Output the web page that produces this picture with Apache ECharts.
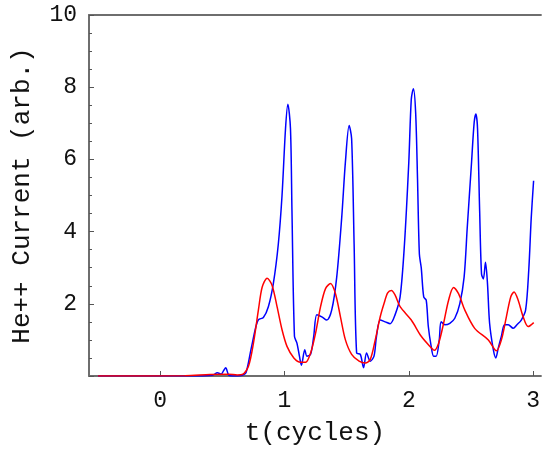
<!DOCTYPE html>
<html>
<head>
<meta charset="utf-8">
<script src="https://cdn.jsdelivr.net/npm/echarts@6/dist/echarts.min.js"></script>
<style>
  html, body { margin: 0; padding: 0; background: #fff; }
  #chart { width: 543px; height: 451px; }
</style>
</head>
<body>
<div id="chart"></div>
<script>
// time in cycles and He++ current
const blueT = [-0.5, 0.0, 0.3, 0.42, 0.46, 0.49, 0.51, 0.527, 0.55, 0.58, 0.62, 0.66, 0.69, 0.73, 0.77, 0.79, 0.83, 0.87, 0.91, 0.95, 0.98, 1.008, 1.027, 1.048, 1.06, 1.08, 1.10, 1.12, 1.136, 1.163, 1.18, 1.21, 1.235, 1.26, 1.30, 1.34, 1.38, 1.42, 1.46, 1.49, 1.52, 1.54, 1.56, 1.58, 1.61, 1.636, 1.66, 1.69, 1.72, 1.74, 1.77, 1.81, 1.85, 1.89, 1.93, 1.965, 2.0, 2.02, 2.037, 2.055, 2.07, 2.085, 2.10, 2.12, 2.14, 2.157, 2.18, 2.20, 2.22, 2.245, 2.26, 2.29, 2.33, 2.37, 2.41, 2.445, 2.47, 2.505, 2.526, 2.54, 2.553, 2.57, 2.585, 2.60, 2.617, 2.633, 2.65, 2.68, 2.70, 2.72, 2.745, 2.77, 2.80, 2.84, 2.87, 2.905, 2.94, 2.965, 2.985, 3.004];
const blueI = [0, 0, 0, 0.02, 0.09, 0.05, 0.15, 0.23, 0.03, 0, 0, 0.02, 0.09, 0.73, 1.37, 1.56, 1.62, 1.92, 2.56, 3.65, 5.0, 6.85, 7.53, 6.85, 4.57, 1.1, 0.91, 0.55, 0.3, 0.73, 0.55, 0.6, 1.1, 1.7, 1.64, 1.55, 1.83, 2.74, 4.38, 5.93, 6.94, 6.57, 3.65, 0.64, 0.6, 0.23, 0.64, 0.41, 0.55, 1.1, 1.55, 1.5, 1.45, 1.7, 2.19, 3.65, 5.93, 7.67, 7.96, 7.3, 5.48, 3.38, 3.0, 2.19, 2.1, 1.37, 0.82, 0.55, 0.55, 1.0, 1.5, 1.42, 1.46, 1.6, 2.0, 2.74, 4.1, 5.93, 7.03, 7.26, 6.85, 4.57, 2.83, 2.69, 3.15, 2.56, 1.46, 0.73, 0.5, 0.78, 1.1, 1.42, 1.42, 1.32, 1.42, 1.55, 1.83, 2.93, 4.38, 5.41];

const redT = [-0.5, 0.2, 0.4, 0.55, 0.62, 0.66, 0.71, 0.75, 0.79, 0.82, 0.86, 0.90, 0.94, 0.98, 1.02, 1.075, 1.13, 1.17, 1.21, 1.25, 1.29, 1.33, 1.37, 1.41, 1.45, 1.49, 1.54, 1.60, 1.65, 1.69, 1.73, 1.77, 1.80, 1.83, 1.86, 1.89, 1.93, 2.02, 2.10, 2.17, 2.205, 2.24, 2.28, 2.32, 2.36, 2.40, 2.45, 2.53, 2.64, 2.705, 2.745, 2.785, 2.82, 2.847, 2.88, 2.92, 2.96, 3.005];
const redI = [0, 0.01, 0.04, 0.05, 0.03, 0.04, 0.27, 0.91, 1.83, 2.46, 2.71, 2.51, 1.92, 1.28, 0.82, 0.5, 0.38, 0.38, 0.64, 1.19, 1.92, 2.42, 2.56, 2.28, 1.64, 1.0, 0.6, 0.41, 0.36, 0.46, 1.0, 1.64, 2.0, 2.3, 2.37, 2.24, 1.92, 1.55, 1.1, 0.82, 0.71, 0.91, 1.46, 2.1, 2.45, 2.28, 1.83, 1.32, 1.0, 0.7, 1.0, 1.64, 2.19, 2.33, 2.1, 1.64, 1.37, 1.48];

const xTicks = [0, 1, 2, 3];

const font = '"Liberation Mono", "DejaVu Sans Mono", monospace';
const axisGray = '#6e6e6e';
const tickGray = '#555';

const chart = echarts.init(document.getElementById('chart'));
chart.setOption({
  animation: false,
  backgroundColor: '#fff',
  grid: { left: 89, right: 0, top: 15, bottom: 71 },
  xAxis: [{
    type: 'value',
    min: -0.573,
    max: 3.063,
    name: 't(cycles)',
    nameLocation: 'middle',
    nameGap: 44,
    nameTextStyle: { fontFamily: font, fontSize: 26, color: '#111' },
    axisLine: { onZero: false, lineStyle: { color: axisGray, width: 2 } },
    axisTick: { inside: true, length: 5, customValues: xTicks, lineStyle: { color: tickGray } },
    axisLabel: { customValues: xTicks, fontFamily: font, fontSize: 23, color: '#111', margin: 13 },
    splitLine: { show: false }
  }, {
    type: 'value',
    position: 'top',
    min: -0.573,
    max: 3.063,
    axisLine: { onZero: false, lineStyle: { color: axisGray, width: 2 } },
    axisTick: { show: false },
    axisLabel: { show: false },
    splitLine: { show: false }
  }],
  yAxis: {
    type: 'value',
    min: 0,
    max: 10,
    interval: 2,
    name: 'He++ Current (arb.)',
    nameLocation: 'middle',
    nameGap: 54,
    nameTextStyle: { fontFamily: font, fontSize: 26, color: '#111' },
    axisLine: { show: true, onZero: false, lineStyle: { color: axisGray, width: 2 } },
    axisTick: { inside: true, length: 5, lineStyle: { color: tickGray } },
    minorTick: { show: true, splitNumber: 4, length: 3, lineStyle: { color: tickGray } },
    axisLabel: {
      fontFamily: font, fontSize: 23, color: '#111', margin: 12,
      formatter: v => (v === 0 ? '' : String(v))
    },
    splitLine: { show: false }
  },
  series: [{
    type: 'line',
    xAxisIndex: 0,
    data: redT.map((t, i) => [t, redI[i]]),
    showSymbol: false,
    smooth: 0.3,
    lineStyle: { color: '#ff0000', width: 1.5 },
    z: 3
  }, {
    type: 'line',
    xAxisIndex: 0,
    data: blueT.map((t, i) => [t, blueI[i]]),
    showSymbol: false,
    smooth: 0.3,
    lineStyle: { color: '#0000ff', width: 1.5 },
    z: 2
  }]
});
</script>
</body>
</html>
